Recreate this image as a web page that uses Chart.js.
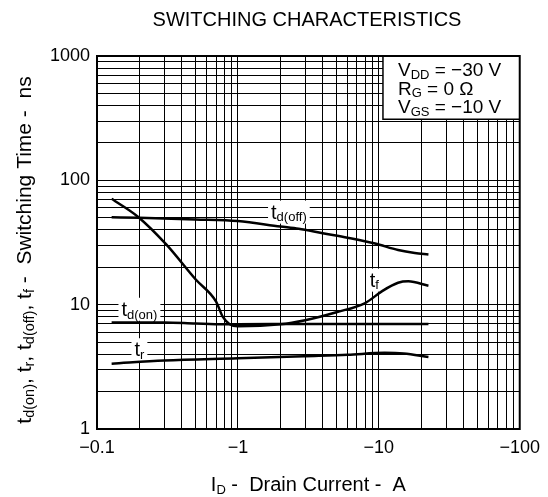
<!DOCTYPE html>
<html>
<head>
<meta charset="utf-8">
<script src="https://cdn.jsdelivr.net/npm/chart.js@4.4.1/dist/chart.umd.min.js"></script>
<style>
  html, body { margin: 0; padding: 0; background: #fff; }
</style>
</head>
<body>
<canvas id="my-chart" width="548" height="497"></canvas>
<script>
// switching characteristics, log-log

const tdOffCurrent = [0.127, 0.2, 0.5, 1.0, 2.0, 2.7, 4.0, 6.0, 9.4, 13.7, 18, 22.5];
const tdOffTime = [50.5, 50, 48.5, 47, 42.5, 40.8, 37.5, 34.5, 31, 27.5, 26, 25.3];

const tfCurrent = [0.127, 0.195, 0.31, 0.5, 0.7, 0.78, 0.87, 1.0, 2.0, 3.0, 5.0, 8.0, 10.5, 13.7, 16.2, 22.5];
const tfTime = [71, 51, 30.5, 16, 10.6, 8.0, 7.0, 6.7, 6.95, 7.5, 8.7, 10.3, 12.8, 15.0, 15.4, 14.2];

const tdOnCurrent = [0.127, 0.3, 0.5, 0.8, 1.0, 3.0, 22.5];
const tdOnTime = [7.2, 7.2, 7.05, 6.95, 6.95, 7.0, 7.0];

const trCurrent = [0.127, 0.3, 1.0, 3.0, 6.0, 11, 15, 22.5];
const trTime = [3.35, 3.55, 3.7, 3.85, 3.95, 4.1, 4.05, 3.8];

const xTickValues = [0.1, 1, 10, 100];
const xTickLabels = ['\u22120.1', '\u22121', '\u221210', '\u2212100'];
const yTickValues = [1, 10, 100, 1000];
const yTickLabels = ['1', '10', '100', '1000'];

const FONT = '"Liberation Sans", Arial, Helvetica, sans-serif';

function toPoints(xs, ys) {
  return xs.map((x, i) => ({ x: x, y: ys[i] }));
}

// all 1..9 x decade grid positions
function logGrid(min, max) {
  const out = [];
  for (let d = min; d < max; d *= 10) {
    for (let k = 1; k < 10; k++) out.push(+(d * k).toPrecision(6));
  }
  out.push(max);
  return out;
}

function findLabel(values, labels, v) {
  const i = values.findIndex(t => Math.abs(t - v) / t < 1e-6);
  return i >= 0 ? labels[i] : '';
}

// draw text made of normal + subscript runs
function runsWidth(ctx, runs, size, sub) {
  let w = 0;
  runs.forEach(r => {
    ctx.font = (r[1] ? sub : size) + 'px ' + FONT;
    w += ctx.measureText(r[0]).width;
  });
  return w;
}
function drawRuns(ctx, runs, x, y, size, sub, align) {
  const w = runsWidth(ctx, runs, size, sub);
  let cx = align === 'center' ? x - w / 2 : x;
  ctx.textAlign = 'left';
  ctx.textBaseline = 'alphabetic';
  runs.forEach(r => {
    ctx.font = (r[1] ? sub : size) + 'px ' + FONT;
    ctx.fillText(r[0], cx, r[1] ? y + size * 0.14 : y);
    cx += ctx.measureText(r[0]).width;
  });
  return w;
}

const curveLabels = [
  { runs: [['t', 0], ['d(off)', 1]], x: 2.3, y: 55 },
  { runs: [['t', 0], ['d(on)', 1]], x: 0.2, y: 9.1 },
  { runs: [['t', 0], ['r', 1]], x: 0.2, y: 4.3 },
  { runs: [['t', 0], ['f', 1]], x: 9.3, y: 15.6 }
];

const conditionLines = [
  [['V', 0], ['DD', 1], [' = \u221230 V', 0]],
  [['R', 0], ['G', 1], [' = 0 \u03A9', 0]],
  [['V', 0], ['GS', 1], [' = \u221210 V', 0]]
];

const textPlugin = {
  id: 'texts',
  beforeDatasetsDraw(chart) {
    const ctx = chart.ctx;
    const xs = chart.scales.x, ys = chart.scales.y;
    const area = chart.chartArea;
    ctx.save();
    // conditions box
    const bx = xs.getPixelForValue(10.7), by = ys.getPixelForValue(310);
    ctx.fillStyle = '#fff';
    ctx.fillRect(bx, area.top, area.right - bx, by - area.top);
    ctx.strokeStyle = '#000';
    ctx.lineWidth = 1.5;
    ctx.beginPath();
    ctx.moveTo(bx, area.top);
    ctx.lineTo(bx, by);
    ctx.lineTo(area.right, by);
    ctx.stroke();
    ctx.fillStyle = '#000';
    conditionLines.forEach((line, i) => {
      drawRuns(ctx, line, bx + 15, area.top + 20 + i * 18.5, 19, 13, 'left');
    });
    // curve labels with white backing
    curveLabels.forEach(l => {
      const px = xs.getPixelForValue(l.x), py = ys.getPixelForValue(l.y);
      const w = runsWidth(ctx, l.runs, 20, 13);
      ctx.fillStyle = '#fff';
      ctx.fillRect(px - w / 2 - 3, py - 12, w + 6, 23);
      ctx.fillStyle = '#000';
      drawRuns(ctx, l.runs, px, py + 6, 20, 13, 'center');
    });
    ctx.restore();
  },
  afterDraw(chart) {
    const ctx = chart.ctx;
    const area = chart.chartArea;
    ctx.save();
    ctx.strokeStyle = '#000';
    ctx.lineWidth = 2;
    ctx.strokeRect(area.left, area.top, area.right - area.left, area.bottom - area.top);
    ctx.fillStyle = '#000';
    // title
    ctx.font = '20px ' + FONT;
    ctx.textAlign = 'center';
    ctx.textBaseline = 'alphabetic';
    ctx.fillText('SWITCHING CHARACTERISTICS', 307, 26);
    // x title
    drawRuns(ctx, [['I', 0], ['D', 1], [' -  Drain Current -  A', 0]],
      (area.left + area.right) / 2, 491, 20, 13, 'center');
    // y title
    ctx.translate(31, 250);
    ctx.rotate(-Math.PI / 2);
    drawRuns(ctx, [['t', 0], ['d(on)', 1], [', t', 0], ['r', 1], [', t', 0], ['d(off)', 1],
      [', t', 0], ['f', 1], [' -  Switching Time -  ns', 0]], 0, 0, 21, 14.5, 'center');
    ctx.restore();
  }
};

const lineStyle = {
  borderColor: '#000',
  borderWidth: 2.5,
  pointRadius: 0,
  fill: false,
  cubicInterpolationMode: 'monotone'
};

const ctx = document.getElementById('my-chart').getContext('2d');
const chart = new Chart(ctx, {
  type: 'line',
  data: {
    datasets: [
      Object.assign({ label: 'td(off)', data: toPoints(tdOffCurrent, tdOffTime) }, lineStyle),
      Object.assign({ label: 'tf', data: toPoints(tfCurrent, tfTime) }, lineStyle),
      Object.assign({ label: 'td(on)', data: toPoints(tdOnCurrent, tdOnTime) }, lineStyle),
      Object.assign({ label: 'tr', data: toPoints(trCurrent, trTime) }, lineStyle)
    ]
  },
  options: {
    responsive: false,
    animation: false,
    devicePixelRatio: 1,
    layout: { padding: { left: 0, top: 56, right: 26, bottom: 0 } },
    plugins: { legend: { display: false }, tooltip: { enabled: false }, title: { display: false } },
    scales: {
      x: {
        type: 'logarithmic',
        min: 0.1,
        max: 100,
        afterBuildTicks: s => { s.ticks = logGrid(0.1, 100).map(v => ({ value: v })); },
        afterFit: s => { s.height = 68; },
        ticks: {
          autoSkip: false,
          maxRotation: 0,
          padding: 8,
          color: '#000',
          font: { family: FONT, size: 18 },
          callback: v => findLabel(xTickValues, xTickLabels, v)
        },
        grid: { color: '#000', lineWidth: 1, drawTicks: false },
        border: { color: '#000', width: 2 }
      },
      y: {
        type: 'logarithmic',
        min: 1,
        max: 1000,
        afterBuildTicks: s => { s.ticks = logGrid(1, 1000).map(v => ({ value: v })); },
        afterFit: s => { s.width = 97; },
        ticks: {
          autoSkip: false,
          padding: 7,
          color: '#000',
          font: { family: FONT, size: 18 },
          callback: v => findLabel(yTickValues, yTickLabels, v)
        },
        grid: { color: '#000', lineWidth: 1, drawTicks: false },
        border: { color: '#000', width: 2 }
      }
    }
  },
  plugins: [textPlugin]
});
</script>
</body>
</html>
